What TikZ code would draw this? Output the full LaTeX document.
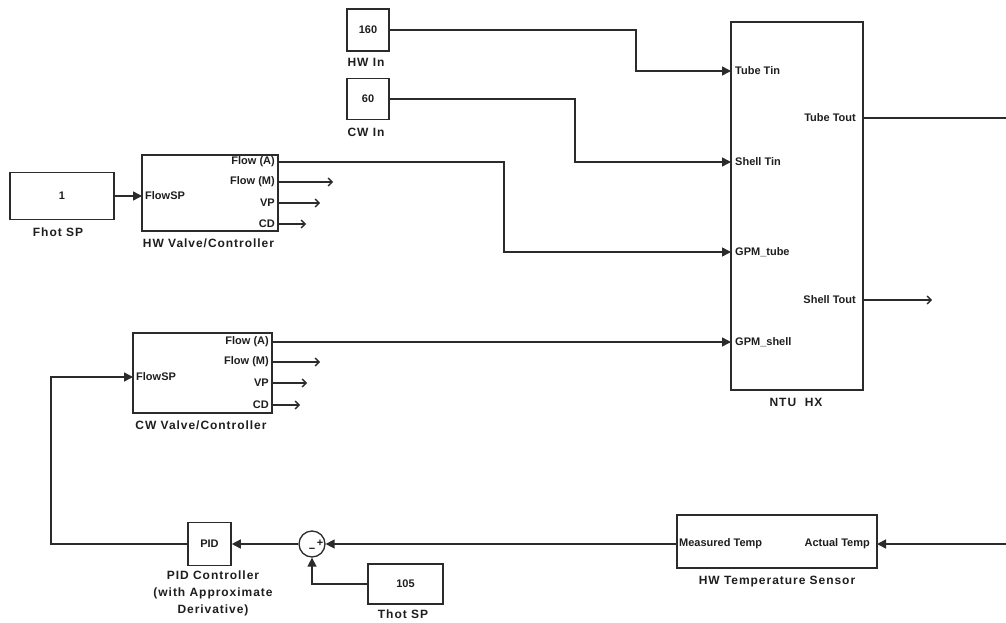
\documentclass[tikz,border=0pt]{standalone}
\usepackage{fontspec}
\setmainfont{Liberation Sans}
\usetikzlibrary{arrows.meta,calc}
\newcommand\blkfont{\fontsize{11}{17}\selectfont\bfseries}
\newcommand\namefont{\fontsize{12}{17}\selectfont\bfseries\addfontfeature{LetterSpace=8}}
\definecolor{linec}{HTML}{2B2B2B}
\definecolor{txtc}{HTML}{1E1E1E}
\begin{document}
\begin{tikzpicture}[x=1pt,y=-1pt,
  blk/.style={draw=linec, line width=1.6pt, inner sep=0pt, font=\blkfont, text=txtc},
  lbl/.style={font=\blkfont, inner sep=0pt, text=txtc},
  blkname/.style={font=\namefont, inner sep=0pt, text=txtc},
  conn/.style={draw=linec, line width=1.5pt, -{Triangle[length=9pt,width=9pt]}},
  openarr/.style={draw=linec, line width=1.3pt, -{Straight Barb[length=4pt,width=8pt]}}
]
\useasboundingbox (0,0) rectangle (1006,623);

% ---- blocks ----
\node[blk, minimum width=104pt, minimum height=47pt] (fhot) at (62,196) {1};
\node[blk, minimum width=136pt, minimum height=76pt] (hwv) at (210,193) {};
\node[blk, minimum width=42pt, minimum height=42pt] (hwin) at (368,30) {160};
\node[blk, minimum width=42pt, minimum height=41pt] (cwin) at (368,99) {60};
\node[blk, minimum width=132pt, minimum height=368pt] (ntu) at (797,206) {};
\node[blk, minimum width=139pt, minimum height=80pt] (cwv) at (202.5,373) {};
\node[blk, minimum width=43pt, minimum height=43pt] (pid) at (209.5,544) {PID};
\node[draw=linec, line width=1.3pt, circle, minimum size=26pt, inner sep=0pt] (sum) at (312,544) {};
\node[blk, minimum width=75pt, minimum height=40pt] (thot) at (405.5,584) {105};
\node[blk, minimum width=200pt, minimum height=53pt] (sens) at (777,541.5) {};

% ---- block names ----
\node[blkname] (fhotname) at (58,232) {Fhot SP};
\node[blkname] (hwvname) at (208.5,243) {HW Valve/Controller};
\node[blkname] (hwinname) at (366,62) {HW In};
\node[blkname] (cwinname) at (366,132) {CW In};
\node[blkname] (ntuname) at (796,402) {NTU\ \ HX};
\node[blkname] (cwvname) at (201,425) {CW Valve/Controller};
\node[blkname, align=center] (pidname) at (213,593) {PID Controller\\(with Approximate\\Derivative)};
\node[blkname] (thotname) at (403,614) {Thot SP};
\node[blkname] (sensname) at (777,582) {HW Temperature Sensor};

% ---- ports ----
\coordinate (hwv-in) at (142,196);
\coordinate (hwv-fa) at (278,162);
\coordinate (hwv-fm) at (278,182);
\coordinate (hwv-vp) at (278,203);
\coordinate (hwv-cd) at (278,224);
\coordinate (cwv-in) at (133,377);
\coordinate (cwv-fa) at (272,342);
\coordinate (cwv-fm) at (272,362);
\coordinate (cwv-vp) at (272,383);
\coordinate (cwv-cd) at (272,405);
\coordinate (ntu-tt) at (731,71);
\coordinate (ntu-st) at (731,162);
\coordinate (ntu-gt) at (731,252);
\coordinate (ntu-gs) at (731,342);
\coordinate (ntu-to) at (863,118);
\coordinate (ntu-so) at (863,300);
\coordinate (sens-out) at (677,544);
\coordinate (sens-in) at (877,544);

% ---- port labels ----
\node[lbl, anchor=west] (lhwin) at ($(hwv-in)+(3,0)$) {FlowSP};
\node[lbl, anchor=east] (lhwfa) at ($(hwv-fa)+(-3,0)$) {Flow (A)};
\node[lbl, anchor=east] (lhwfm) at ($(hwv-fm)+(-3,0)$) {Flow (M)};
\node[lbl, anchor=east] (lhwvp) at ($(hwv-vp)+(-3,0)$) {VP};
\node[lbl, anchor=east] (lhwcd) at ($(hwv-cd)+(-3,0)$) {CD};
\node[lbl, anchor=west] (lcwin) at ($(cwv-in)+(3,0)$) {FlowSP};
\node[lbl, anchor=east] (lcwfa) at ($(cwv-fa)+(-3,0)$) {Flow (A)};
\node[lbl, anchor=east] (lcwfm) at ($(cwv-fm)+(-3,0)$) {Flow (M)};
\node[lbl, anchor=east] (lcwvp) at ($(cwv-vp)+(-3,0)$) {VP};
\node[lbl, anchor=east] (lcwcd) at ($(cwv-cd)+(-3,0)$) {CD};
\node[lbl, anchor=west] (lntt) at ($(ntu-tt)+(4,0)$) {Tube Tin};
\node[lbl, anchor=west] (lnst) at ($(ntu-st)+(4,0)$) {Shell Tin};
\node[lbl, anchor=west] (lngt) at ($(ntu-gt)+(4,0)$) {GPM\_tube};
\node[lbl, anchor=west] (lngs) at ($(ntu-gs)+(4,0)$) {GPM\_shell};
\node[lbl, anchor=east] (lnto) at ($(ntu-to)+(-7,0)$) {Tube Tout};
\node[lbl, anchor=east] (lnso) at ($(ntu-so)+(-7,0)$) {Shell Tout};
\node[lbl, anchor=west] (lsout) at ($(sens-out)+(2,0)$) {Measured Temp};
\node[lbl, anchor=east] (lsin) at ($(sens-in)+(-7,0)$) {Actual Temp};
\node[lbl] (plus) at ($(sum)+(8,-1)$) {+};
\node[lbl] (minus) at ($(sum)+(0,6)$) {−};

% ---- connectors ----
\draw[conn] (fhot.east) -- (hwv-in);
\draw[conn] (hwv-fa) -- ++(226,0) |- (ntu-gt);
\draw[openarr] (hwv-fm) -- ++(55,0);
\draw[openarr] (hwv-vp) -- ++(42,0);
\draw[openarr] (hwv-cd) -- ++(28,0);
\draw[conn] (hwin.east) -- ++(246,0) |- (ntu-tt);
\draw[conn] (cwin.east) -- ++(185,0) |- (ntu-st);
\draw[conn] (cwv-fa) -- (ntu-gs);
\draw[openarr] (cwv-fm) -- ++(48,0);
\draw[openarr] (cwv-vp) -- ++(35,0);
\draw[openarr] (cwv-cd) -- ++(28,0);
\draw[openarr] (ntu-so) -- ++(69,0);
\begin{scope}
\clip (0,0) rectangle (1006,623);
\draw[conn] (ntu-to) -- ++(160,0) |- (sens-in);
\end{scope}
\draw[conn] (sens-out) -- (sum.east);
\draw[conn] (sum.west) -- (pid.east);
\draw[conn] (pid.west) -- ++(-136,0) |- (cwv-in);
\draw[conn] (thot.west) -| (sum.south);
\end{tikzpicture}
\end{document}
